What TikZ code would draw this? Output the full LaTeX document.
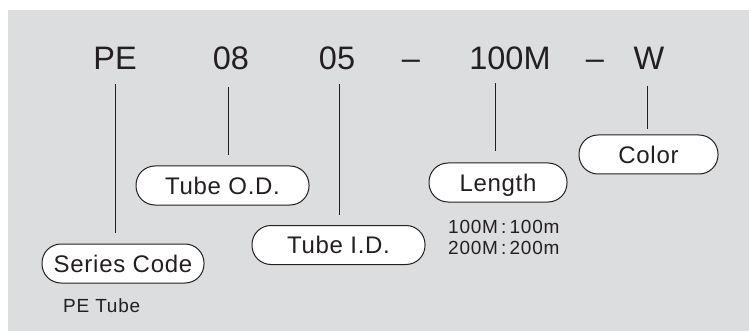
\documentclass[tikz,border=0pt]{standalone}
\usepackage{fontspec}
\setmainfont{Liberation Sans}
\definecolor{bg}{RGB}{220,221,223}
\definecolor{ink}{RGB}{35,31,32}
\begin{document}
\begin{tikzpicture}[x=1pt,y=-1pt,
  code/.style={anchor=base, inner sep=0pt, text=ink, font=\fontsize{32.5}{39}\selectfont},
  tag/.style={draw=ink, line width=1pt, fill=white, rounded corners=19pt, minimum height=39pt,
    inner sep=0pt, text=ink, font=\fontsize{24}{29}\selectfont\addfontfeature{LetterSpace=3},
    text height=17.5pt, text depth=0pt},
  lead/.style={draw=ink, line width=1pt},
  note/.style={text=ink, inner sep=0pt, anchor=base west,
    font=\fontsize{19}{21}\selectfont\addfontfeature{LetterSpace=4}}]
\useasboundingbox (0,0) rectangle (749,331);
\fill[bg] (8,10) rectangle (749,331);
% code letters
\node[code] (pe) at (115,70) {PE};
\node[code] (od) at (231,70) {08};
\node[code] (id) at (337,70) {05};
\node[code] (d1) at (411,70) {--};
\node[code] (len) at (510,70) {100M};
\node[code] (d2) at (595,70) {--};
\node[code] (col) at (649,70) {W};
% tags
\node[tag, minimum width=162pt] (bsc) at (123,263.5) {Series Code};
\node[tag, minimum width=173pt] (bod) at (222.5,185.5) {Tube O.D.};
\node[tag, minimum width=173pt] (bid) at (338.5,245) {Tube I.D.};
\node[tag, minimum width=138pt] (blen) at (498,182.5) {Length};
\node[tag, minimum width=139pt] (bcol) at (648.5,154.5) {Color};
% leads
\coordinate (lpe) at (115.7,84);
\coordinate (lod) at (228,87);
\coordinate (lid) at (339,84);
\coordinate (llen) at (495.7,83);
\coordinate (lcol) at (647,86);
\draw[lead, shorten >=10.5pt] (lpe) -- (lpe |- bsc.north);
\draw[lead, shorten >=10pt] (lod) -- (lod |- bod.north);
\draw[lead, shorten >=10.5pt] (lid) -- (lid |- bid.north);
\draw[lead, shorten >=11pt] (llen) -- (llen |- blen.north);
\draw[lead, shorten >=5pt] (lcol) -- (lcol |- bcol.north);
% notes
\node[note] (n1) at (63,312) {PE Tube};
\node[note] (n2) at (448,233) {100M\,:\,100m};
\node[note] (n3) at (448,254) {200M\,:\,200m};
\end{tikzpicture}
\end{document}
